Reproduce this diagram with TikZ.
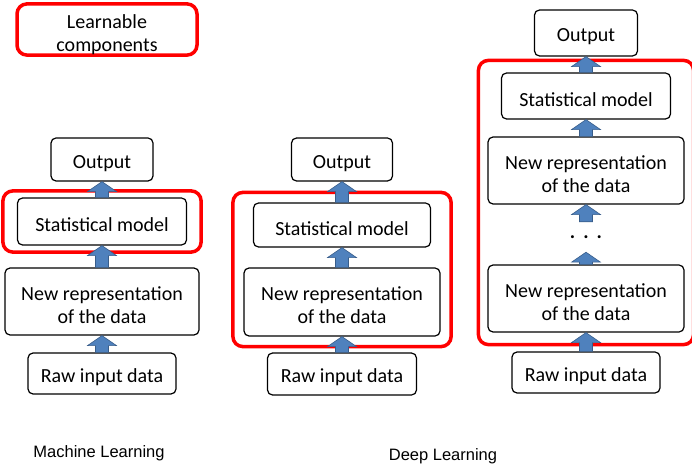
\documentclass[tikz,border=0pt]{standalone}
\usepackage{fontspec}
\setmainfont{Carlito}
\newfontfamily\capfont{Liberation Sans}
\usetikzlibrary{calc,fit}

\definecolor{arrblue}{HTML}{4F81BD}
\definecolor{arrline}{HTML}{385D8A}
\definecolor{lrnred}{HTML}{FF0000}

\newcommand{\txtsz}{\fontsize{20}{23}\selectfont}
\newcommand{\lift}[1]{\rule{0pt}{#1}}
\newcommand{\bx}{\node[draw, line width=1.2pt, rounded corners=5pt, align=center, inner sep=0pt, font=\txtsz, execute at begin node={\lift{21pt}}]}
\newcommand{\rd}{\node[draw=lrnred, line width=3.5pt, rounded corners=10pt, inner sep=0pt]}
\newcommand{\capn}{\node[font=\capfont\fontsize{16.5}{19}\selectfont]}
% block arrow from the top of #1 up to the bottom of #2
\newcommand{\blkarrow}[2]{%
  \filldraw[fill=arrblue, draw=arrline, line width=0.6pt]
    let \p1=(#1.north), \p2=(#2.south) in
    (\x1-6.5,\y1) -- (\x1-6.5,\y2-10) -- (\x1-14.5,\y2-10) -- (\x1,\y2)
    -- (\x1+14.5,\y2-10) -- (\x1+6.5,\y2-10) -- (\x1+6.5,\y1) -- cycle;}

\begin{document}
\begin{tikzpicture}[x=1pt, y=1pt]
            \useasboundingbox (0,0) rectangle (692,463);

            % legend
            \rd[minimum width=180pt, minimum height=47pt, align=center, font=\txtsz] (lgd) at (107,433.5) {\lift{25pt}Learnable\\components};

            % machine learning
            \bx[minimum width=102pt, minimum height=43pt] (out1) at (102,303.5) {Output};
            \bx[minimum width=169pt, minimum height=47pt] (stat1) at (102,241.5) {Statistical model};
            \bx[minimum width=194pt, minimum height=67pt] (rep1) at (102,161.5) {\lift{21pt}New representation\\of the data};
            \bx[minimum width=148pt, minimum height=41pt] (raw1) at (102,89.5) {Raw input data};
            \rd[fit=(stat1), inner xsep=14pt, inner ysep=6.5pt] (red1) {};

            % deep learning, one hidden layer
            \bx[minimum width=101pt, minimum height=43pt] (out2) at (342,303.5) {Output};
            \bx[minimum width=177pt, minimum height=44pt] (stat2) at (342,238) {Statistical model};
            \bx[minimum width=196pt, minimum height=68pt] (rep2) at (342,161) {\lift{21pt}New representation\\of the data};
            \bx[minimum width=149pt, minimum height=42pt] (raw2) at (342,89) {Raw input data};
            \rd[fit=(stat2) (rep2), inner xsep=10.5pt, inner ysep=10pt] (red2) {};

            % deep learning, many layers
            \bx[minimum width=103pt, minimum height=46pt] (out3) at (586,430) {Output};
            \bx[minimum width=169pt, minimum height=46pt] (stat3) at (586,367) {Statistical model};
            \bx[minimum width=196pt, minimum height=67pt] (rep3a) at (586,292.5) {\lift{21pt}New representation\\of the data};
            \node[minimum height=30pt, inner sep=0pt, font=\txtsz\bfseries] (dots) at (586,226) {.\hspace{8pt}.\hspace{8pt}.};
            \bx[minimum width=196pt, minimum height=67pt] (rep3b) at (586,164.5) {\lift{21pt}New representation\\of the data};
            \bx[minimum width=148pt, minimum height=41pt] (raw3) at (586,90.5) {Raw input data};
            \rd[fit=(stat3) (rep3b), inner xsep=9pt, inner ysep=12pt] (red3) {};

            \capn (ml) at (99,10) {Machine Learning};
            \capn (dl) at (443,7) {Deep Learning};

            \blkarrow{raw1}{rep1}
            \blkarrow{rep1}{stat1}
            \blkarrow{stat1}{out1}

            \blkarrow{raw2}{rep2}
            \blkarrow{rep2}{stat2}
            \blkarrow{stat2}{out2}

            \blkarrow{raw3}{rep3b}
            \blkarrow{rep3b}{dots}
            \blkarrow{dots}{rep3a}
            \blkarrow{rep3a}{stat3}
            \blkarrow{stat3}{out3}
        \end{tikzpicture}
\end{document}
